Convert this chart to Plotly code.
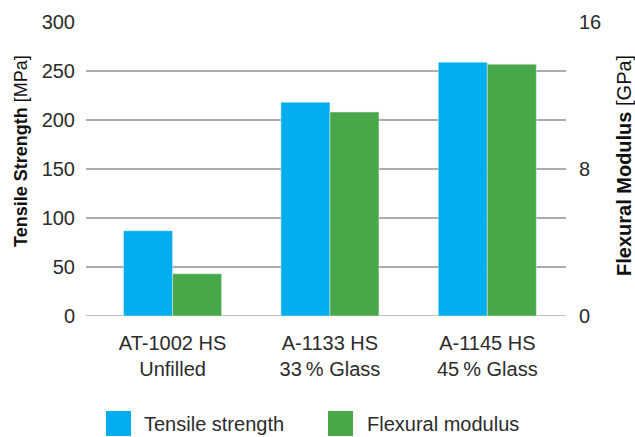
import plotly.graph_objects as go

categories = ["AT-1002 HS<br>Unfilled", "A-1133 HS<br>33\u202f% Glass", "A-1145 HS<br>45\u202f% Glass"]
tensile = [87, 218, 259]
flexural = [2.3, 11.1, 13.7]
series_names = ["Tensile strength", "Flexural modulus"]
left_ticks = [0, 50, 100, 150, 200, 250, 300]
right_ticks = [0, 8, 16]

BLUE = "#00AEEF"
GREEN = "#48A748"
GRID = "#ababab"
TXT = "#2b2b2b"
FONT = "Liberation Sans, Arial, sans-serif"

W, H = 635, 437
ML, MR, MT, MB = 86, 69, 22, 121
PW, PH = W - ML - MR, H - MT - MB

def px(x):
    return (x - ML) / PW

def py(y):
    return 1 - (y - MT) / PH

fig = go.Figure()
fig.add_trace(go.Bar(x=categories, y=tensile, name=series_names[0], marker_color=BLUE,
                     offsetgroup="a", yaxis="y", showlegend=False))
fig.add_trace(go.Bar(x=categories, y=flexural, name=series_names[1], marker_color=GREEN,
                     offsetgroup="b", yaxis="y2", showlegend=False))

fig.update_layout(
    width=W, height=H,
    margin=dict(l=ML, r=MR, t=MT, b=MB, pad=0),
    paper_bgcolor="white", plot_bgcolor="white",
    barmode="group", bargap=0.377, bargroupgap=0,
    font=dict(family=FONT, size=20, color=TXT),
    xaxis=dict(range=[-0.55, 2.5], showgrid=False, showline=False, ticks="",
               tickfont=dict(size=20, color=TXT), ticklabelstandoff=13),
    yaxis=dict(range=[0, 300], tickvals=left_ticks, showgrid=True, gridcolor=GRID, gridwidth=1.6,
               zeroline=False, showline=False, ticks="",
               tickfont=dict(size=20, color=TXT), ticklabelstandoff=10),
    yaxis2=dict(range=[0, 16], overlaying="y", side="right", tickvals=right_ticks,
                showgrid=False, zeroline=False, showline=False, ticks="",
                tickfont=dict(size=20, color=TXT), ticklabelstandoff=12),
    showlegend=False,
)

# baseline gridline at zero (hidden by plotly at the range edge)
fig.add_shape(type="line", xref="paper", yref="y", x0=0, x1=1, y0=0, y1=0,
              line=dict(color=GRID, width=1.6), layer="below")

# axis titles
fig.add_annotation(x=px(21), y=py(151), xref="paper", yref="paper", textangle=-90,
                   text="<b>Tensile Strength</b> [MPa]", showarrow=False,
                   font=dict(size=18, color="#111"), xanchor="center", yanchor="middle")
fig.add_annotation(x=px(624), y=py(166), xref="paper", yref="paper", textangle=-90,
                   text="<b>Flexural Modulus</b> [GPa]", showarrow=False,
                   font=dict(size=20, color="#111"), xanchor="center", yanchor="middle")

# custom legend
for (x0, col, name, tx) in [(106, BLUE, series_names[0], 142), (328, GREEN, series_names[1], 365)]:
    fig.add_shape(type="rect", xref="paper", yref="paper", x0=px(x0), x1=px(x0 + 25),
                  y0=py(436), y1=py(411), fillcolor=col, line_width=0)
    fig.add_annotation(x=px(tx), y=py(423.5), xref="paper", yref="paper", text=name,
                       showarrow=False, xanchor="left", yanchor="middle",
                       font=dict(size=20, color=TXT))

fig.write_html("out.html", config={"displayModeBar": False},
               post_script="document.body.style.margin='0';document.body.style.overflow='hidden';")
